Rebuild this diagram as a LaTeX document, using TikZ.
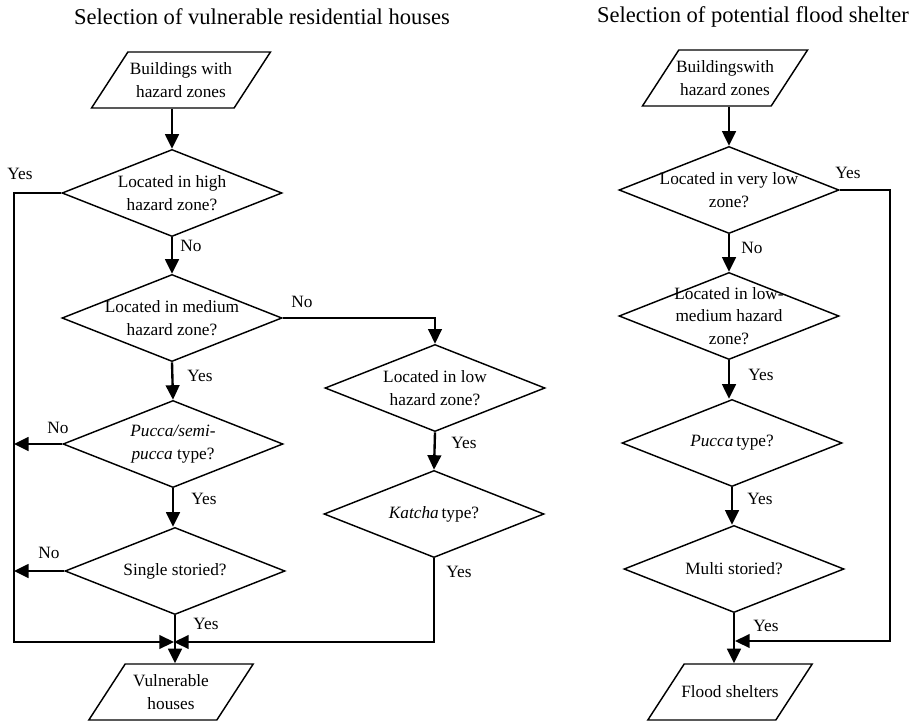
\documentclass[tikz,border=0pt]{standalone}
\usepackage{fontspec}
\setmainfont{Liberation Serif}
\usetikzlibrary{arrows.meta}
\usetikzlibrary{shapes}
\usetikzlibrary{calc}

\begin{document}
\begin{tikzpicture}[x=0.55pt, y=-0.55pt, font=\fontsize{9.5}{12.3}\selectfont,
        io_style/.style={trapezium, trapezium left angle=57, trapezium right angle=123, draw, line width=0.8pt, inner ysep=15.4pt, inner xsep=29.2pt},
        decision_style/.style={diamond, draw, line width=0.8pt, minimum width=121pt, minimum height=47.9pt, inner sep=0pt},
        text_style/.style={align=center, inner sep=0pt},
        title_style/.style={font=\fontsize{12.4}{14}\selectfont},
        answer_style/.style={inner sep=0pt},
        arrow_style/.style={draw=black, line width=1.3pt, -{Triangle[length=8pt,width=7.5pt]}},
        flow_style/.style={draw=black, line width=1pt, -{Triangle[length=8pt,width=7.5pt]}}]

        \useasboundingbox (0,0) rectangle (911,722);

        \node [title_style](t1) at (262,17) {Selection of vulnerable residential houses};

        \node [title_style](t2) at (753,17) {Selection of potential flood shelter};

        \node [io_style, label={[text_style]center:{Buildings with\\ hazard zones}}](in1) at (181,80) {};

        \node [decision_style, label={[text_style]center:{Located in high\\hazard zone?}}](d1) at (172,193) {};

        \node [decision_style, label={[text_style]center:{Located in medium\\hazard zone?}}](d2) at (172,318) {};

        \node [decision_style, label={[text_style]center:{\textit{Pucca/semi-}\\\textit{pucca} type?}}](d3) at (173,444) {};

        \node [decision_style, label={[text_style]center:{Single storied?}}](d5) at (175,571) {};

        \node [decision_style, label={[text_style]center:{Located in low\\hazard zone?}}](d4) at (435,388) {};

        \node [decision_style, label={[text_style]center:{\textit{Katcha}\,type?}}](d6) at (434,514) {};

        \node [io_style, inner xsep=25.2pt, label={[text_style]center:{Vulnerable\\houses}}](out1) at (171,692) {};

        \node [io_style, inner xsep=25.4pt, label={[text_style]center:{Buildingswith\\ hazard zones}}](in2) at (725,78) {};

        \node [decision_style, label={[text_style]center:{Located in very low\\zone?}}](r1) at (729,190) {};

        \node [decision_style, label={[text_style]center:{Located in low-\\medium hazard\\zone?}}](r2) at (729,316) {};

        \node [decision_style, label={[text_style]center:{\textit{Pucca}\,type?}}](r3) at (732,443) {};

        \node [decision_style, label={[text_style]center:{Multi storied?}}](r4) at (734,569) {};

        \node [io_style, inner xsep=25.2pt, label={[text_style]center:{Flood shelters}}](out2) at (730,692) {};

        \coordinate (c_tl) at (14,193);
        \coordinate (c_bl) at (14,642);
        \coordinate (join_l) at (174,642);
        \coordinate (c_tr) at (890,190);
        \coordinate (c_br) at (890,641);
        \coordinate (join_r) at (735,641);

        \draw [arrow_style] (d1 |- in1.south) -- (d1.north);

        \draw [arrow_style] (d1.south) -- (d2.north);

        \draw [arrow_style] (d2.south) -- (d3.north);

        \draw [arrow_style] (d3.south) -- (d3.south |- d5.north);

        \draw [arrow_style] (d5.south) -- (d5.south |- out1.north);

        \draw [flow_style] (d1.west) -- (c_tl) -- (c_bl) -- (join_l);

        \draw [arrow_style] (d3.west) -- (d3.west -| c_tl);

        \draw [arrow_style] (d5.west) -- (d5.west -| c_tl);

        \draw [flow_style] (d2.east) -| (d4.north);

        \draw [arrow_style] (d4.south) -- (d6.north);

        \draw [flow_style] (d6.south) |- (join_l);

        \draw [arrow_style] (r1 |- in2.south) -- (r1.north);

        \draw [arrow_style] (r1.south) -- (r2.north);

        \draw [arrow_style] (r2.south) -- (r2.south |- r3.north);

        \draw [arrow_style] (r3.south) -- (r3.south |- r4.north);

        \draw [arrow_style] (r4.south) -- (r4.south |- out2.north);

        \draw [flow_style] (r1.east) -- (c_tr) -- (c_br) -- (join_r);

        \node [answer_style](a1) at (20,174) {Yes};

        \node [answer_style](a2) at (191,246) {No};

        \node [answer_style](a3) at (302,302) {No};

        \node [answer_style](a4) at (200,376) {Yes};

        \node [answer_style](a5) at (58,428) {No};

        \node [answer_style](a6) at (204,499) {Yes};

        \node [answer_style](a7) at (49,553) {No};

        \node [answer_style](a8) at (206,624) {Yes};

        \node [answer_style](a9) at (464,443) {Yes};

        \node [answer_style](a10) at (459,572) {Yes};

        \node [answer_style](a11) at (848,173) {Yes};

        \node [answer_style](a12) at (752,248) {No};

        \node [answer_style](a13) at (761,375) {Yes};

        \node [answer_style](a14) at (760,499) {Yes};

        \node [answer_style](a15) at (766,626) {Yes};

        \end{tikzpicture}
\end{document}
